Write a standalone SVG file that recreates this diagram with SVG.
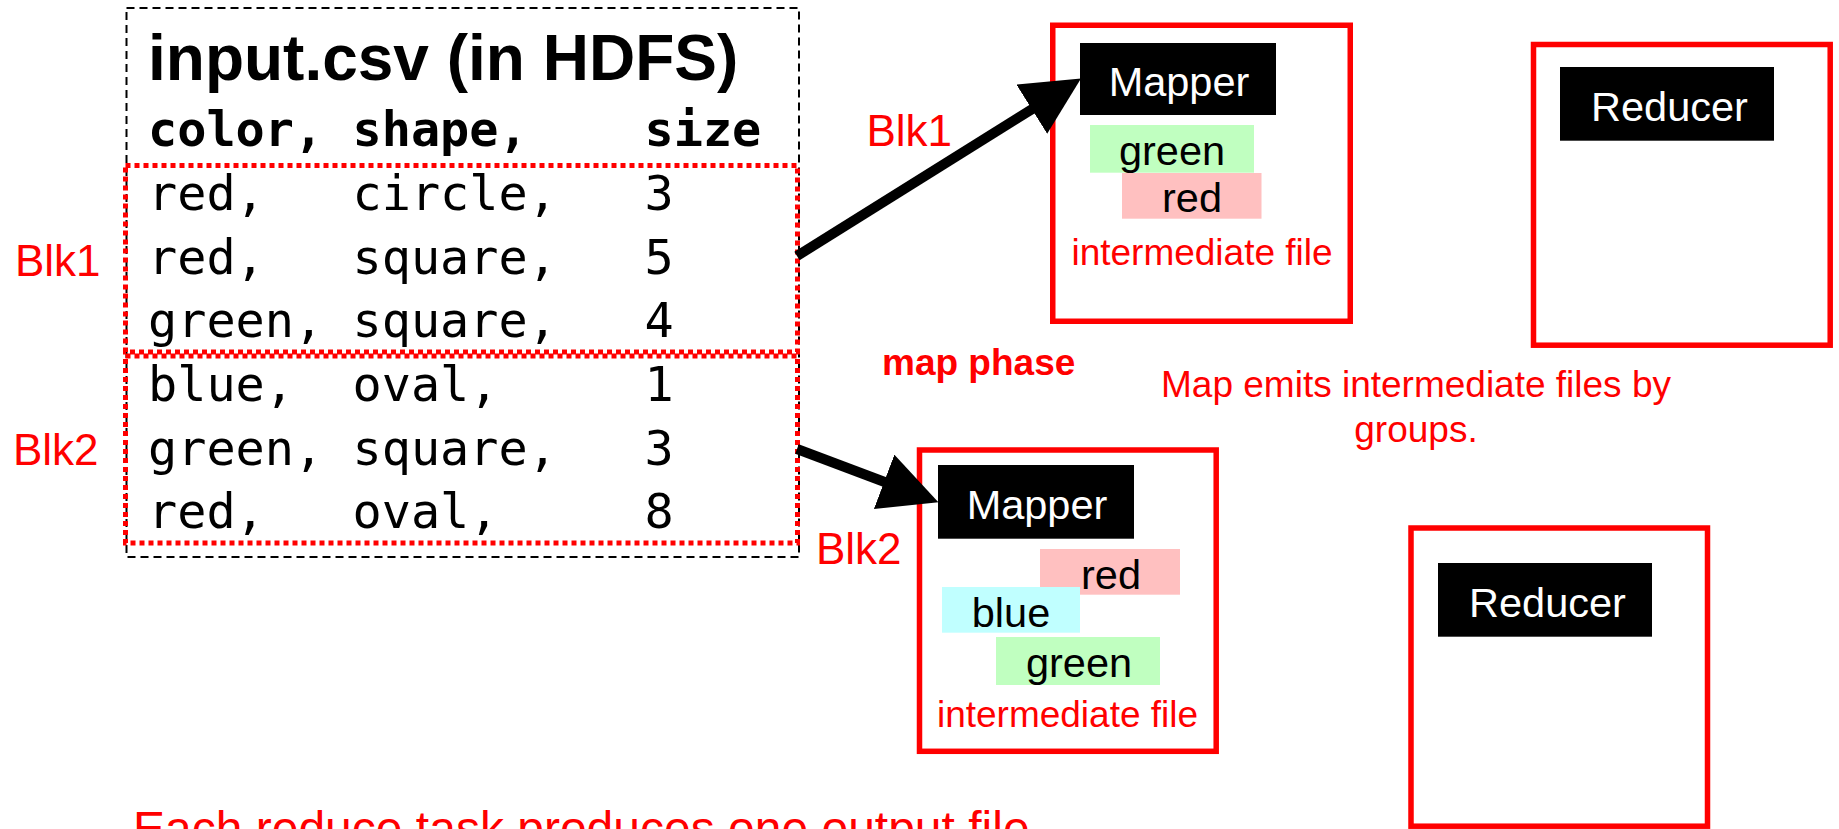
<svg xmlns="http://www.w3.org/2000/svg" width="1839" height="829" viewBox="0 0 1839 829">
  <style>
    .sans { font-family: "Liberation Sans", Arial, sans-serif; }
    .mono { font-family: "DejaVu Sans Mono", "Liberation Mono", monospace; font-size: 48.5px; fill: #000; }
    .red { fill: #ff0000; }
    .blk { font-family: "Liberation Sans", Arial, sans-serif; font-size: 44px; fill: #ff0000; }
    .frame { fill: #ffffff; stroke: #ff0000; stroke-width: 5.5; }
    .title-box { fill: #000; }
    .title-text { font-family: "Liberation Sans", Arial, sans-serif; font-size: 41.5px; fill: #ffffff; text-anchor: middle; }
    .key { font-family: "Liberation Sans", Arial, sans-serif; font-size: 41.5px; fill: #000; text-anchor: middle; }
    .note { font-family: "Liberation Sans", Arial, sans-serif; font-size: 37px; fill: #ff0000; text-anchor: middle; }
    .block { fill: none; stroke: #ff0000; stroke-width: 5; stroke-dasharray: 5 4; }
    .arrow { fill: none; stroke: #000; stroke-width: 10; }
  </style>
  <defs>
    <marker id="head" markerUnits="userSpaceOnUse" viewBox="0 0 58 58" markerWidth="58" markerHeight="58" refX="2" refY="29" orient="auto">
      <path d="M0,0 L58,29 L0,58 Z" fill="#000"/>
    </marker>
  </defs>

  <!-- input file in HDFS -->
  <g id="input-file">
    <rect x="126.5" y="8" width="672.5" height="549" fill="none" stroke="#000" stroke-width="2" stroke-dasharray="8 5"/>
    <text x="148" y="80" class="sans" font-size="64" font-weight="bold">input.csv (in HDFS)</text>
    <text class="mono" font-weight="bold" y="146"><tspan x="148">color,</tspan><tspan x="352.5">shape,</tspan><tspan x="644.5">size</tspan></text>
    <text class="mono" y="210"><tspan x="148">red,</tspan><tspan x="352.5">circle,</tspan><tspan x="644.5">3</tspan></text>
    <text class="mono" y="273.5"><tspan x="148">red,</tspan><tspan x="352.5">square,</tspan><tspan x="644.5">5</tspan></text>
    <text class="mono" y="337"><tspan x="148">green,</tspan><tspan x="352.5">square,</tspan><tspan x="644.5">4</tspan></text>
    <text class="mono" y="401"><tspan x="148">blue,</tspan><tspan x="352.5">oval,</tspan><tspan x="644.5">1</tspan></text>
    <text class="mono" y="464.5"><tspan x="148">green,</tspan><tspan x="352.5">square,</tspan><tspan x="644.5">3</tspan></text>
    <text class="mono" y="528"><tspan x="148">red,</tspan><tspan x="352.5">oval,</tspan><tspan x="644.5">8</tspan></text>
  </g>

  <!-- HDFS blocks -->
  <g id="block-1">
    <rect class="block" x="125.5" y="165.5" width="672" height="186.5"/>
    <text class="blk" x="15" y="276">Blk1</text>
  </g>
  <g id="block-2">
    <rect class="block" x="125.5" y="356" width="672" height="187"/>
    <text class="blk" x="13" y="465">Blk2</text>
  </g>

  <!-- mapper 1 -->
  <g id="mapper-1">
    <rect class="frame" x="1052.75" y="25.25" width="297.5" height="296"/>
    <rect class="title-box" x="1080" y="43" width="196" height="72"/>
    <text class="title-text" x="1179" y="95.5">Mapper</text>
    <rect x="1090" y="125" width="164" height="47.7" fill="#c0ffc0"/>
    <text class="key" x="1172" y="165">green</text>
    <rect x="1122" y="173" width="139.5" height="45.7" fill="#ffc0c0"/>
    <text class="key" x="1192" y="211.5">red</text>
    <text class="note" x="1202" y="265">intermediate file</text>
  </g>

  <!-- mapper 2 -->
  <g id="mapper-2">
    <rect class="frame" x="919.5" y="450" width="296.7" height="301.3"/>
    <rect class="title-box" x="938" y="465" width="196" height="73.7"/>
    <text class="title-text" x="1037" y="519.3">Mapper</text>
    <rect x="1040" y="549" width="140" height="45.7" fill="#ffc0c0"/>
    <text class="key" x="1111" y="589.3">red</text>
    <rect x="942" y="587" width="138" height="45.7" fill="#c0ffff"/>
    <text class="key" x="1011" y="626.7">blue</text>
    <rect x="996" y="637" width="164" height="48" fill="#c0ffc0"/>
    <text class="key" x="1079" y="676.7">green</text>
    <text class="note" x="1067.5" y="727.3">intermediate file</text>
  </g>

  <!-- reducer 1 -->
  <g id="reducer-1">
    <rect class="frame" x="1533.5" y="44.5" width="296.7" height="300.7"/>
    <rect class="title-box" x="1560" y="67" width="214" height="73.7"/>
    <text class="title-text" x="1669.5" y="120.7">Reducer</text>
  </g>

  <!-- reducer 2 -->
  <g id="reducer-2">
    <rect class="frame" x="1411" y="528" width="296.5" height="298.2"/>
    <rect class="title-box" x="1438" y="563" width="214" height="73.7"/>
    <text class="title-text" x="1547.5" y="617.3">Reducer</text>
  </g>

  <!-- block-to-mapper connectors -->
  <g id="connectors">
    <path class="arrow" d="M797,256 L1033.5,108.2" marker-end="url(#head)"/>
    <path class="arrow" d="M797,449 L886,482.5" marker-end="url(#head)"/>
    <text class="blk" x="866.5" y="145.7">Blk1</text>
    <text class="blk" x="816" y="564">Blk2</text>
  </g>

  <!-- phase notes -->
  <g id="notes">
    <text class="sans red" x="882" y="375" font-size="37" font-weight="bold">map phase</text>
    <text class="note" x="1416" y="396.5">Map emits intermediate files by</text>
    <text class="note" x="1416" y="442">groups.</text>
    <text class="sans red" x="133" y="844.5" font-size="48">Each reduce task produces one output file</text>
  </g>
</svg>
